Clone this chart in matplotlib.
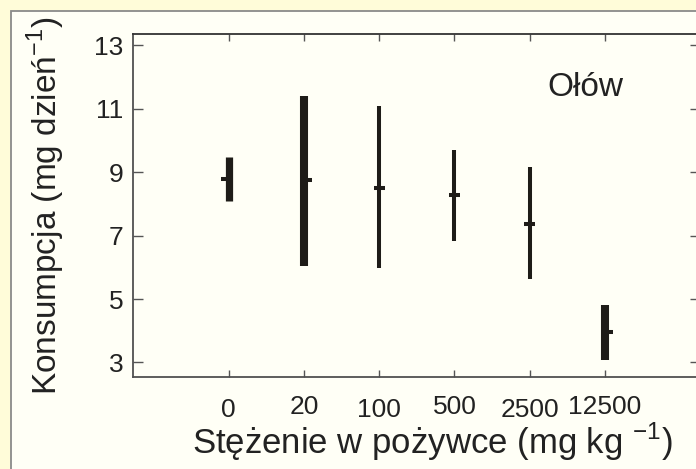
import matplotlib.pyplot as plt
import matplotlib.transforms as mtransforms
from matplotlib.patches import Rectangle

# Consumption of food at increasing lead concentration in the diet
concentrations = ['0', '20', '100', '500', '2500', '12500']
mean_intake = [8.78, 8.75, 8.51, 8.29, 7.37, 3.97]
range_low = [8.10, 6.05, 5.97, 6.84, 5.62, 3.08]
range_high = [9.48, 11.40, 11.09, 9.70, 9.16, 4.81]
y_ticks = [3, 5, 7, 9, 11, 13]

# bar widths (pt) and small horizontal shifts of the mean dash
bar_widths = [5.2, 5.8, 2.9, 2.9, 2.9, 5.8]
mean_shift = [-0.03, 0.03, 0.0, 0.0, 0.0, 0.03]
label_drop = [3, 0, 3, 0, 3, 0]

outer_bg = '#fffcd9'
inner_bg = '#fffff6'
ink = '#1e1c18'

plt.rcParams['font.family'] = ['Liberation Sans', 'DejaVu Sans']
plt.rcParams['mathtext.fontset'] = 'custom'
plt.rcParams['mathtext.rm'] = 'Liberation Sans'

fig = plt.figure(figsize=(6.96, 4.69), dpi=100)
fig.patch.set_facecolor(outer_bg)

# inner light panel with grey border
fig.patches.append(Rectangle((11 / 696, -0.1), 1.2, 1 - 11 / 469 + 0.1,
                             transform=fig.transFigure, facecolor=inner_bg,
                             edgecolor='#8a8a8a', linewidth=1.3, zorder=-5))

ax = fig.add_axes([133.3 / 696, 1 - 376.7 / 469, 567 / 696, 342.7 / 469])
ax.set_facecolor(inner_bg)

pos = list(range(len(concentrations)))
ax.vlines(pos, range_low, range_high, colors=ink, linewidths=bar_widths,
          capstyle='butt', zorder=3)
dash_x = [p + s for p, s in zip(pos, mean_shift)]
ax.hlines(mean_intake, [x - 0.075 for x in dash_x], [x + 0.075 for x in dash_x],
          colors=ink, linewidth=2.9, zorder=4)

ax.set_xlim(-1.27, 6.27)
ax.set_ylim(2.55, 13.36)
ax.set_xticks(pos)
ax.set_xticklabels(concentrations, fontsize=19, color='#222222')
ax.set_yticks(y_ticks)
ax.set_yticklabels([str(t) for t in y_ticks], fontsize=19, color='#222222')

ax.tick_params(axis='x', direction='in', length=5, width=1, color='#555555',
               top=True, pad=13)
ax.tick_params(axis='y', direction='in', length=7.5, width=1, color='#555555',
               right=True, pad=7)

# staggered x tick labels
for lab, d in zip(ax.get_xticklabels(), label_drop):
    lab.set_transform(lab.get_transform() +
                      mtransforms.ScaledTranslation(0, -d / 100, fig.dpi_scale_trans))

for name, sp in ax.spines.items():
    sp.set_color('#505050')
    sp.set_linewidth(1.3)
ax.spines['top'].set_color('#333333')

ax.set_ylabel('Konsumpcja (mg dzień$^{\\mathregular{-1}}$)', fontsize=24, color='#222222')
ax.yaxis.set_label_coords(-0.117, 0.5)
ax.set_xlabel('Stężenie w pożywce (mg kg $^{\\mathregular{-1}}$)', fontsize=25, color='#222222')
ax.xaxis.set_label_coords(0.527, -0.13)

ax.text(4.74, 11.40, 'Ołów', fontsize=24, color='#222222', ha='center', va='baseline')

fig.savefig('out.png', dpi=100, facecolor=fig.get_facecolor())
